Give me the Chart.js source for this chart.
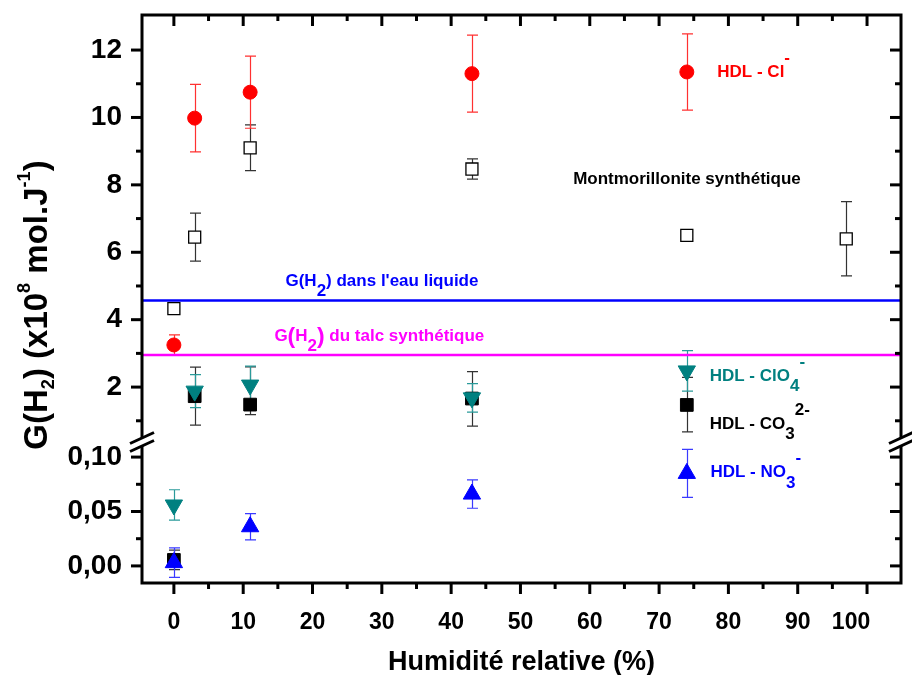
<!DOCTYPE html>
<html>
<head>
<meta charset="utf-8">
<script src="https://cdn.jsdelivr.net/npm/chart.js@4.4.0/dist/chart.umd.min.js"></script>
<style>
   html, body { margin: 0; padding: 0; background: #fff; }
</style>
</head>
<body>
<canvas id="chart" width="912" height="675"></canvas>
<script>
// axis ticks
const humidityTicks = [0, 10, 20, 30, 40, 50, 60, 70, 80, 90, 100];
const humidityMinor = [5, 15, 25, 35, 45, 55, 65, 75, 85, 95];
const upperTicks = [2, 4, 6, 8, 10, 12];
const upperMinor = [1, 3, 5, 7, 9, 11];
const lowerTicks = [0, 0.05, 0.10];
const lowerMinor = [0.025, 0.075];

// HDL - Cl-
const clX = [0, 3, 11, 43, 74];
const clY = [3.25, 9.98, 10.75, 11.3, 11.35];
const clErr = [0.3, 1.0, 1.07, 1.14, 1.13];

// Montmorillonite synthetique
const montX = [0, 3, 11, 43, 74, 97];
const montY = [4.33, 6.45, 9.1, 8.47, 6.5, 6.4];
const montErr = [0.17, 0.71, 0.68, 0.3, 0.1, 1.1];

// HDL - CO3 2-
const co3X = [3, 11, 43, 74];
const co3Y = [1.73, 1.48, 1.66, 1.47];
const co3ErrUp = [0.86, 1.12, 0.8, 0.82];
const co3ErrDown = [0.86, 0.3, 0.82, 0.8];
const co3LowX = [0];
const co3LowY = [0.0055];
const co3LowErr = [0.009];

// HDL - ClO4-
const clo4X = [3, 11, 43, 74];
const clo4Y = [1.88, 2.06, 1.68, 2.48];
const clo4Err = [0.49, 0.56, 0.42, 0.6];
const clo4LowX = [0];
const clo4LowY = [0.056];
const clo4LowErr = [0.014];

// HDL - NO3-
const no3X = [0, 11, 43, 74];
const no3Y = [0.003, 0.036, 0.066, 0.085];
const no3Err = [0.0135, 0.012, 0.013, 0.022];

// reference levels
const waterG = 4.57;
const talcG = 2.95;

const xRange = [-4.6, 104.9];
const upperRange = [0.43, 13.04];
const lowerRange = [-0.0157, 0.1157];

const FONT = 'Liberation Sans, Arial, sans-serif';

const notes = [
   { parts: [['HDL - Cl', ''], ['-', 'sup']], x: 78.4, y: 11.35, axis: 'y', color: '#ff0000' },
   { parts: [['Montmorillonite synthétique', '']], x: 57.6, y: 8.17, axis: 'y', color: '#000000' },
   { parts: [['G(H', ''], ['2', 'sub'], [') dans l\'eau liquide', '']], x: 16.1, y: 5.15, axis: 'y', color: '#0000ff' },
   { parts: [['G', ''], ['(', 'big'], ['H', ''], ['2', 'sub'], [')', 'big'], [' du talc synthétique', '']], x: 14.5, y: 3.51, axis: 'y', color: '#ff00ff' },
   { parts: [['HDL - ClO', ''], ['4', 'sub'], ['-', 'sup']], x: 77.3, y: 2.33, axis: 'y', color: '#008080' },
   { parts: [['HDL - CO', ''], ['3', 'sub'], ['2-', 'sup']], x: 77.3, y: 0.9, axis: 'y', color: '#000000' },
   { parts: [['HDL - NO', ''], ['3', 'sub'], ['-', 'sup']], x: 77.4, y: 0.086, axis: 'yLow', color: '#0000ff' }
];

function points(xs, ys) {
   return xs.map((x, i) => ({ x: x, y: ys[i] }));
}

function drawRich(ctx, parts, x, y, size, color, align, small) {
   const scale = small || 1;
   const fontFor = kind => {
      if (kind === 'big') return `bold ${size * 1.35}px ${FONT}`;
      if (kind === 'sub' || kind === 'sup') return `bold ${size * scale}px ${FONT}`;
      return `bold ${size}px ${FONT}`;
   };
   const widths = parts.map(([t, k]) => {
      ctx.font = fontFor(k);
      return ctx.measureText(t).width;
   });
   const total = widths.reduce((a, b) => a + b, 0);
   let cx = align === 'center' ? x - total / 2 : x;
   ctx.fillStyle = color;
   ctx.textBaseline = 'middle';
   ctx.textAlign = 'left';
   parts.forEach(([t, k], i) => {
      ctx.font = fontFor(k);
      let dy = 0;
      if (k === 'sub') dy = scale < 1 ? size * 0.32 : size * 0.62;
      if (k === 'sup') dy = scale < 1 ? -size * 0.4 : -size * 0.8;
      if (k === 'big') dy = size * 0.05;
      ctx.fillText(t, cx, y + dy);
      cx += widths[i];
   });
}

const errorBars = {
   id: 'errorBars',
   beforeDatasetsDraw(chart) {
      const ctx = chart.ctx;
      const area = chart.chartArea;
      ctx.save();
      ctx.beginPath();
      ctx.rect(area.left, area.top, area.right - area.left, area.bottom - area.top);
      ctx.clip();
      chart.data.datasets.forEach(ds => {
         if (!ds.errUp) return;
         const xs = chart.scales.x;
         const ys = chart.scales[ds.yAxisID];
         ctx.strokeStyle = ds.errColor;
         ctx.lineWidth = 1.2;
         ds.data.forEach((p, i) => {
            const px = Math.round(xs.getPixelForValue(p.x)) + 0.5;
            const top = ys.getPixelForValue(p.y + ds.errUp[i]);
            const bot = ys.getPixelForValue(p.y - ds.errDown[i]);
            ctx.beginPath();
            ctx.moveTo(px, top);
            ctx.lineTo(px, bot);
            ctx.moveTo(px - 5.5, top);
            ctx.lineTo(px + 5.5, top);
            ctx.moveTo(px - 5.5, bot);
            ctx.lineTo(px + 5.5, bot);
            ctx.stroke();
         });
      });
      ctx.restore();
   }
};

const frameAndNotes = {
   id: 'frameAndNotes',
   afterDraw(chart) {
      const ctx = chart.ctx;
      const a = chart.chartArea;
      const xs = chart.scales.x;
      const yUp = chart.scales.y;
      const yLow = chart.scales.yLow;
      ctx.save();
      ctx.strokeStyle = '#000';
      ctx.lineWidth = 3;
      ctx.lineCap = 'butt';
      ctx.strokeRect(a.left, a.top, a.right - a.left, a.bottom - a.top);

      // tick marks, outward on left/bottom, inward on top/right
      const tick = (x1, y1, x2, y2) => {
         ctx.beginPath();
         ctx.moveTo(x1, y1);
         ctx.lineTo(x2, y2);
         ctx.stroke();
      };
      const yTicks = (scale, list, len) => list.forEach(v => {
         const p = scale.getPixelForValue(v);
         tick(a.left, p, a.left - len, p);
         tick(a.right, p, a.right - len, p);
      });
      yTicks(yUp, upperTicks, 11);
      yTicks(yUp, upperMinor, 6);
      yTicks(yLow, lowerTicks, 11);
      yTicks(yLow, lowerMinor, 6);
      const xTicks = (list, len) => list.forEach(v => {
         const p = xs.getPixelForValue(v);
         tick(p, a.bottom, p, a.bottom + len);
         tick(p, a.top, p, a.top + len);
      });
      xTicks(humidityTicks, 11);
      xTicks(humidityMinor, 6);

      // axis break marks
      const yb = yUp.bottom + 2;
      [a.left, a.right].forEach(x => {
         ctx.fillStyle = '#fff';
         ctx.beginPath();
         ctx.moveTo(x - 12, yb + 1.5);
         ctx.lineTo(x + 12, yb - 9.5);
         ctx.lineTo(x + 12, yb - 1.5);
         ctx.lineTo(x - 12, yb + 9.5);
         ctx.closePath();
         ctx.fill();
         tick(x - 12, yb + 1.5, x + 12, yb - 9.5);
         tick(x - 12, yb + 9.5, x + 12, yb - 1.5);
      });

      notes.forEach(n => {
         const px = xs.getPixelForValue(n.x);
         const py = chart.scales[n.axis].getPixelForValue(n.y);
         drawRich(ctx, n.parts, px, py, 17, n.color, 'left', 1);
      });

      // y axis title
      ctx.translate(38, 305);
      ctx.rotate(-Math.PI / 2);
      drawRich(ctx, [['G(H', ''], ['2', 'sub'], [') (x10', ''], ['8', 'sup'], [' mol.J', ''], ['-1', 'sup'], [')', '']],
         0, 0, 33, '#000', 'center', 0.55);
      ctx.restore();
   }
};

function fixWidth(w) {
   return scale => {
      scale.width = w;
      scale.paddingTop = 0;
      scale.paddingBottom = 0;
   };
}

const tickFont = size => ({ family: FONT, size: size, weight: 'bold' });

new Chart(document.getElementById('chart'), {
   type: 'scatter',
   data: {
      datasets: [
         {
            type: 'line',
            data: points(xRange, [waterG, waterG]),
            yAxisID: 'y',
            order: 6,
            borderColor: '#0000ff',
            borderWidth: 2.5,
            pointRadius: 0
         },
         {
            type: 'line',
            data: points(xRange, [talcG, talcG]),
            yAxisID: 'y',
            order: 6,
            borderColor: '#ff00ff',
            borderWidth: 2.5,
            pointRadius: 0
         },
         {
            data: points(montX, montY),
            yAxisID: 'y',
            order: 5,
            pointStyle: 'rect',
            pointRadius: 8.5,
            backgroundColor: '#fff',
            borderColor: '#000',
            borderWidth: 1.3,
            errUp: montErr,
            errDown: montErr,
            errColor: '#333'
         },
         {
            data: points(clX, clY),
            yAxisID: 'y',
            order: 4,
            pointStyle: 'circle',
            pointRadius: 7,
            backgroundColor: '#ff0000',
            borderColor: '#ff0000',
            errUp: clErr,
            errDown: clErr,
            errColor: '#ff3030'
         },
         {
            data: points(co3X, co3Y),
            yAxisID: 'y',
            order: 3,
            pointStyle: 'rect',
            pointRadius: 9,
            backgroundColor: '#000',
            borderColor: '#000',
            errUp: co3ErrUp,
            errDown: co3ErrDown,
            errColor: '#333'
         },
         {
            data: points(co3LowX, co3LowY),
            yAxisID: 'yLow',
            order: 3,
            pointStyle: 'rect',
            pointRadius: 9,
            backgroundColor: '#000',
            borderColor: '#000',
            errUp: co3LowErr,
            errDown: co3LowErr,
            errColor: '#333'
         },
         {
            data: points(clo4X, clo4Y),
            yAxisID: 'y',
            order: 2,
            pointStyle: 'triangle',
            rotation: 180,
            pointRadius: 10,
            backgroundColor: '#008080',
            borderColor: '#008080',
            errUp: clo4Err,
            errDown: clo4Err,
            errColor: '#2a9a9a'
         },
         {
            data: points(clo4LowX, clo4LowY),
            yAxisID: 'yLow',
            order: 2,
            pointStyle: 'triangle',
            rotation: 180,
            pointRadius: 10,
            backgroundColor: '#008080',
            borderColor: '#008080',
            errUp: clo4LowErr,
            errDown: clo4LowErr,
            errColor: '#2a9a9a'
         },
         {
            data: points(no3X, no3Y),
            yAxisID: 'yLow',
            order: 1,
            pointStyle: 'triangle',
            pointRadius: 10,
            backgroundColor: '#0000ff',
            borderColor: '#0000ff',
            errUp: no3Err,
            errDown: no3Err,
            errColor: '#3a3aff'
         }
      ]
   },
   options: {
      responsive: false,
      animation: false,
      devicePixelRatio: 1,
      layout: { padding: { top: 15, right: 8, left: 0, bottom: 0 } },
      plugins: {
         legend: { display: false },
         tooltip: { enabled: false }
      },
      scales: {
         x: {
            type: 'linear',
            min: xRange[0],
            max: xRange[1],
            afterBuildTicks: scale => { scale.ticks = humidityTicks.map(v => ({ value: v })); },
            afterFit: scale => { scale.height = 92; scale.paddingLeft = 0; scale.paddingRight = 0; },
            grid: { display: false },
            border: { display: false },
            ticks: {
               font: tickFont(23),
               color: '#000',
               padding: 18,
               maxRotation: 0,
               autoSkip: false,
               // last label sits a bit left of its tick, as in the original
               callback: v => v === 100 ? '100     ' : String(v)
            },
            title: {
               display: true,
               text: 'Humidité relative (%)',
               font: { family: FONT, size: 27, weight: 'bold', lineHeight: 0.9 },
               color: '#000',
               padding: { top: 0, bottom: 0 }
            }
         },
         y: {
            type: 'linear',
            position: 'left',
            stack: 'left',
            stackWeight: 425,
            weight: 1,
            min: upperRange[0],
            max: upperRange[1],
            afterBuildTicks: scale => { scale.ticks = upperTicks.map(v => ({ value: v })); },
            afterFit: fixWidth(142),
            grid: { display: false },
            border: { display: false },
            ticks: { font: tickFont(28), color: '#000', padding: 12, callback: v => String(v) }
         },
         yLow: {
            type: 'linear',
            position: 'left',
            stack: 'left',
            stackWeight: 143,
            weight: 0,
            min: lowerRange[0],
            max: lowerRange[1],
            afterBuildTicks: scale => { scale.ticks = lowerTicks.map(v => ({ value: v })); },
            afterFit: fixWidth(142),
            grid: { display: false },
            border: { display: false },
            ticks: { font: tickFont(28), color: '#000', padding: 12, callback: v => v.toFixed(2).replace('.', ',') }
         }
      }
   },
   plugins: [errorBars, frameAndNotes]
});
</script>
</body>
</html>
